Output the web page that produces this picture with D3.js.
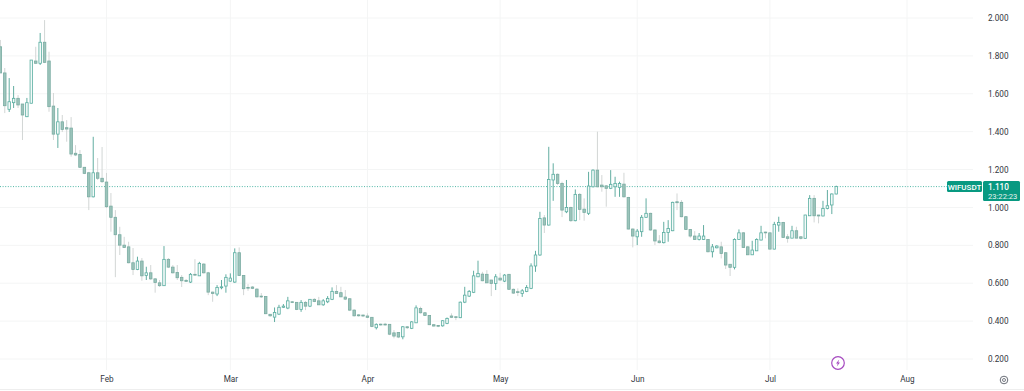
<!DOCTYPE html>
<html><head><meta charset="utf-8">
<script src="https://cdn.jsdelivr.net/npm/d3@7/dist/d3.min.js"></script>
<style>
html,body{margin:0;padding:0;background:#fff;overflow:hidden}
svg{display:block;font-family:Roboto,"Liberation Sans",sans-serif}
#plot{filter:blur(0.35px)}
</style></head><body><svg id="c" width="1024" height="391"></svg>
<script>
const symbol = "WIFUSDT", lastPrice = 1.110, countdown = "23:22:23";
const firstDay = "2025-01-08";
const priceTicks = [2.0,1.8,1.6,1.4,1.2,1.0,0.8,0.6,0.4,0.2];
const monthTicks = ["2025-02-01","2025-03-01","2025-04-01","2025-05-01","2025-06-01","2025-07-01","2025-08-01"];
const monthLabels = ["Feb","Mar","Apr","May","Jun","Jul","Aug"];
const openV = [1.848,1.710,1.518,1.553,1.576,1.546,1.479,1.550,1.773,1.761,1.872,1.773,1.535,1.387,1.452,1.421,1.419,1.286,1.280,1.212,1.183,1.056,1.183,1.154,
1.134,1.007,0.948,0.856,0.801,0.792,0.708,0.673,0.717,0.641,0.655,0.623,0.602,0.587,0.726,0.685,0.657,0.631,0.615,0.606,0.647,0.639,0.701,0.655,0.553,0.543,0.576,0.585,0.611,0.606,0.761,0.641,0.578,0.580,0.569,0.532,0.530,0.436,0.421,0.437,
0.473,0.469,0.502,0.499,0.462,0.499,0.479,0.515,0.507,0.486,0.502,0.515,0.557,0.550,0.527,0.518,0.458,0.433,0.432,0.427,0.420,0.365,0.384,0.384,0.383,0.338,0.340,0.317,0.370,0.362,0.391,0.467,0.444,0.430,0.381,0.377,0.375,0.388,0.427,0.423,0.418,0.500,0.532,0.552,0.634,0.648,0.647,0.617,0.599,0.627,0.611,0.647,0.568,0.555,0.546,0.557,0.573,0.691,
0.749,0.945,0.907,1.145,1.175,1.127,0.977,1.000,0.930,1.069,0.991,0.969,1.109,1.197,1.118,1.114,1.101,1.109,1.106,1.123,1.053,0.886,0.845,0.872,0.948,0.969,0.881,0.823,0.814,0.868,0.877,1.030,1.027,0.951,0.884,0.849,0.831,0.831,0.831,0.766,0.787,0.792,0.761,0.700,0.684,0.831,0.866,0.792,0.750,0.771,0.828,0.870,0.866,0.780,0.907,0.921,0.845,0.838,0.877,0.845,0.837,0.956,1.048,0.960,0.955,0.995,1.013,1.071];
const highV = [1.884,1.736,1.683,1.641,1.593,1.546,1.578,1.778,1.848,1.921,1.989,1.822,1.604,1.525,1.488,1.461,1.477,1.329,1.303,1.213,1.188,1.373,1.261,1.319,
1.182,1.076,0.986,0.898,0.845,0.819,0.786,0.740,0.733,0.687,0.696,0.627,0.617,0.796,0.733,0.696,0.696,0.643,0.622,0.654,0.727,0.713,0.706,0.660,0.556,0.590,0.617,0.647,0.652,0.784,0.789,0.643,0.595,0.585,0.573,0.548,0.532,0.437,0.472,0.486,
0.490,0.528,0.506,0.500,0.511,0.506,0.516,0.521,0.528,0.516,0.532,0.578,0.590,0.581,0.564,0.522,0.463,0.437,0.434,0.441,0.421,0.388,0.387,0.391,0.384,0.353,0.342,0.374,0.374,0.400,0.483,0.476,0.448,0.432,0.384,0.379,0.405,0.419,0.441,0.427,0.503,0.581,0.564,0.666,0.719,0.660,0.669,0.617,0.648,0.655,0.648,0.648,0.572,0.573,0.569,0.590,0.705,0.771,
0.977,0.960,1.320,1.233,1.180,1.136,1.145,1.004,1.095,1.076,1.048,1.188,1.201,1.400,1.171,1.118,1.197,1.162,1.136,1.183,1.056,0.890,0.886,0.960,1.048,0.972,0.884,0.854,0.924,0.933,1.030,1.074,1.039,0.955,0.886,0.875,0.865,0.907,0.833,0.807,0.801,0.819,0.763,0.701,0.837,0.884,0.870,0.796,0.824,0.837,0.903,0.872,0.868,0.924,0.951,0.924,0.859,0.903,0.898,0.849,0.961,1.065,1.065,0.961,1.035,1.092,1.074,1.115];
const lowV = [1.710,1.498,1.504,1.525,1.525,1.356,1.477,1.550,1.757,1.752,1.762,1.505,1.356,1.314,1.398,1.347,1.268,1.271,1.208,1.176,0.986,1.053,1.145,1.129,
0.997,0.872,0.632,0.749,0.786,0.705,0.643,0.669,0.613,0.617,0.617,0.550,0.580,0.587,0.680,0.651,0.617,0.580,0.606,0.601,0.638,0.638,0.651,0.537,0.502,0.532,0.568,0.550,0.608,0.602,0.638,0.537,0.560,0.569,0.525,0.522,0.437,0.423,0.395,0.432,
0.469,0.463,0.495,0.458,0.449,0.458,0.474,0.500,0.485,0.481,0.495,0.511,0.543,0.527,0.511,0.453,0.424,0.424,0.421,0.416,0.368,0.356,0.376,0.376,0.326,0.309,0.310,0.304,0.358,0.358,0.390,0.440,0.427,0.379,0.371,0.368,0.371,0.384,0.416,0.405,0.416,0.495,0.527,0.548,0.632,0.610,0.601,0.532,0.564,0.611,0.606,0.564,0.543,0.532,0.528,0.553,0.569,0.660,
0.745,0.865,0.905,1.035,1.118,0.949,0.970,0.924,0.927,0.933,0.930,0.960,1.106,1.106,1.083,1.004,1.097,1.056,1.056,1.053,0.884,0.789,0.801,0.845,0.945,0.877,0.801,0.810,0.810,0.819,0.875,0.986,0.948,0.881,0.840,0.828,0.826,0.828,0.763,0.736,0.784,0.731,0.675,0.638,0.673,0.829,0.786,0.749,0.749,0.770,0.826,0.837,0.779,0.779,0.872,0.840,0.814,0.837,0.837,0.831,0.835,0.955,0.921,0.916,0.953,0.990,0.965,1.069];
const closeV = [1.710,1.537,1.558,1.576,1.541,1.488,1.553,1.778,1.761,1.872,1.766,1.532,1.387,1.452,1.412,1.414,1.282,1.277,1.212,1.180,1.056,1.183,1.154,1.136,
1.004,0.948,0.856,0.801,0.789,0.708,0.673,0.717,0.639,0.655,0.623,0.604,0.587,0.726,0.685,0.655,0.629,0.613,0.610,0.647,0.643,0.705,0.655,0.553,0.546,0.578,0.581,0.631,0.627,0.761,0.641,0.571,0.574,0.573,0.528,0.528,0.439,0.428,0.446,0.473,
0.479,0.507,0.498,0.462,0.499,0.479,0.515,0.504,0.486,0.507,0.520,0.557,0.546,0.528,0.516,0.458,0.428,0.428,0.427,0.420,0.372,0.383,0.381,0.381,0.331,0.321,0.316,0.370,0.365,0.396,0.470,0.444,0.430,0.381,0.374,0.374,0.402,0.414,0.420,0.420,0.500,0.537,0.557,0.639,0.652,0.613,0.602,0.599,0.634,0.617,0.643,0.568,0.548,0.551,0.560,0.578,0.691,0.749,
0.942,0.907,1.148,1.175,1.127,0.986,1.000,0.930,1.069,0.990,0.974,1.113,1.197,1.109,1.109,1.101,1.122,1.127,1.127,1.056,0.886,0.849,0.875,0.948,0.969,0.881,0.823,0.814,0.868,0.889,1.027,1.025,0.951,0.884,0.849,0.831,0.849,0.849,0.766,0.792,0.796,0.757,0.696,0.684,0.831,0.866,0.789,0.750,0.775,0.831,0.866,0.868,0.780,0.911,0.921,0.842,0.837,0.877,0.838,0.837,0.960,1.048,0.956,0.955,0.995,1.009,1.071,1.110];

const dayMs = 86400000, t0 = Date.parse(firstDay);
const candles = openV.map((o,i)=>({date:new Date(t0+i*dayMs),o,h:highV[i],l:lowV[i],c:closeV[i],up:closeV[i]>=o}));

const W=1024,H=391;
const x = d3.scaleUtc().domain([new Date("2025-02-01"),new Date("2025-08-01")]).range([106.5,907]);
const y = d3.scaleLinear().domain([2.0,0.2]).range([18,359]);
const svg = d3.select("#c");
const colors = {up:"#5aaea1",upFill:"#f4faf9",down:"#7aaca2",downFill:"#9cc4bb",wickUp:"#62ada1",wickDown:"#d2d6d5",grid:"#f4f5f5",text:"#33363e",tag:"#089981",purple:"#a64bc0"};

const plot = svg.append("g").attr("id","plot");
plot.append("g").selectAll("line").data(priceTicks).join("line")
  .attr("x1",0).attr("x2",973).attr("y1",d=>y(d)).attr("y2",d=>y(d)).attr("stroke",colors.grid);
plot.append("g").selectAll("line").data(monthTicks).join("line")
  .attr("x1",d=>x(new Date(d))).attr("x2",d=>x(new Date(d))).attr("y1",0).attr("y2",370).attr("stroke",colors.grid);
plot.append("line").attr("x1",0).attr("x2",947).attr("y1",y(lastPrice)).attr("y2",y(lastPrice))
  .attr("stroke",colors.tag).attr("stroke-width",1).attr("stroke-dasharray","1 1.6").attr("opacity",0.7);
const g = plot.append("g").selectAll("g").data(candles).join("g");
g.append("line").attr("x1",d=>x(d.date)).attr("x2",d=>x(d.date)).attr("y1",d=>y(d.h)).attr("y2",d=>y(d.l))
  .attr("stroke",d=>d.up?colors.wickUp:colors.wickDown).attr("stroke-width",1);
g.append("rect").attr("x",d=>x(d.date)-1.25).attr("width",2.5)
  .attr("y",d=>y(Math.max(d.o,d.c))).attr("height",d=>Math.max(0.8,Math.abs(y(d.o)-y(d.c))))
  .attr("fill",d=>d.up?colors.upFill:colors.downFill)
  .attr("stroke",d=>d.up?colors.up:colors.down).attr("stroke-width",0.8);

const yAxis = d3.axisRight(y).tickValues(priceTicks).tickSize(0).tickPadding(0).tickFormat(d3.format(".3f"));
svg.append("g").attr("transform","translate(988,0)").call(yAxis)
  .call(a=>a.select(".domain").remove())
  .selectAll("text").attr("fill",colors.text).attr("font-size",8.2).attr("font-family","Roboto");
const xAxis = d3.axisBottom(x).tickValues(monthTicks.map(d=>new Date(d))).tickSize(0).tickPadding(0)
  .tickFormat((d,i)=>monthLabels[i]);
svg.append("g").attr("transform","translate(0,376)").call(xAxis)
  .call(a=>a.select(".domain").remove())
  .selectAll("text").attr("fill",colors.text).attr("font-size",8.2).attr("font-family","Roboto");
svg.append("line").attr("x1",0).attr("x2",W).attr("y1",389.5).attr("y2",389.5).attr("stroke","#eeeeee");

const yp = y(lastPrice);
svg.append("rect").attr("x",947).attr("y",yp-5.5).attr("width",35).attr("height",11).attr("rx",1.5).attr("fill",colors.tag);
svg.append("rect").attr("x",983).attr("y",yp-5.5).attr("width",37).attr("height",20).attr("rx",1.5).attr("fill",colors.tag);
svg.append("text").attr("x",964.5).attr("y",yp+3).attr("text-anchor","middle").attr("fill","#fff").attr("font-size",8).attr("font-weight",500).text(symbol);
svg.append("text").attr("x",988).attr("y",yp+3).attr("fill","#fff").attr("font-size",8.2).attr("font-weight",500).text(lastPrice.toFixed(3));
svg.append("text").attr("x",988).attr("y",yp+12).attr("fill","#e4f4f0").attr("font-size",7.6).text(countdown);

const ic = svg.append("g").attr("transform","translate(838,363)");
ic.append("circle").attr("r",6.3).attr("fill","#fff").attr("stroke",colors.purple).attr("stroke-width",1.2);
ic.append("path").attr("d",d3.line()([[1.2,-3.4],[-2,0.6],[-0.2,0.6],[-1.2,3.4],[2,-0.6],[0.2,-0.6]])+"Z").attr("fill",colors.purple);
const gi = svg.append("g").attr("transform","translate(1004,380)");
gi.append("circle").attr("r",3.8).attr("fill","none").attr("stroke","#6b6f78").attr("stroke-width",1);
gi.append("circle").attr("r",1.5).attr("fill","none").attr("stroke","#6b6f78").attr("stroke-width",0.9);
</script></body></html>
